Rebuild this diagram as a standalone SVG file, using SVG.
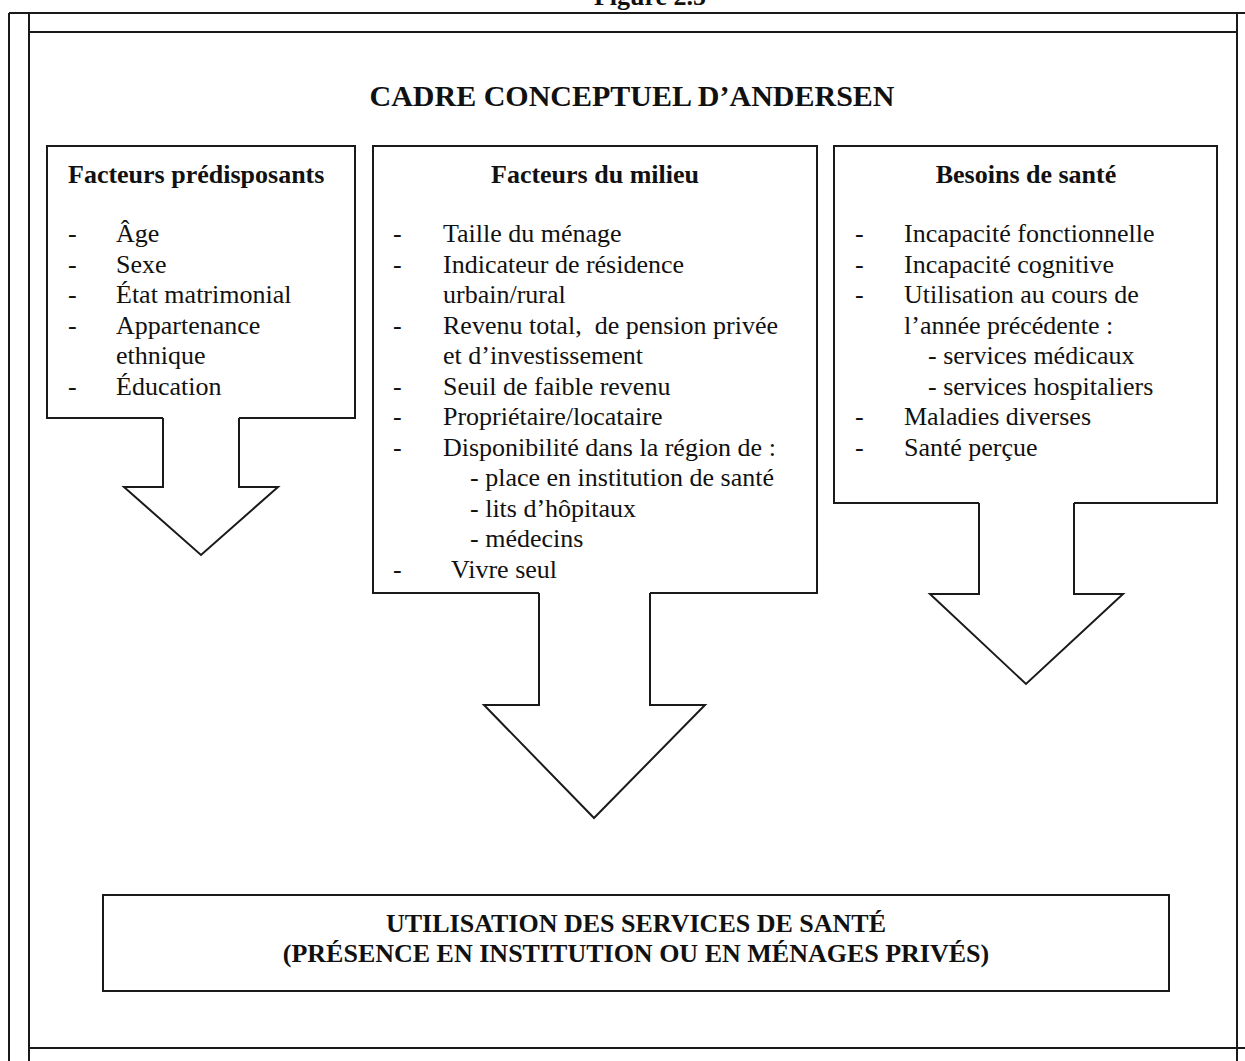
<svg xmlns="http://www.w3.org/2000/svg" width="1245" height="1061" viewBox="0 0 1245 1061">
<style>
  .ln{fill:none;stroke:#1a1a1a;stroke-width:2}
  .frame{fill:none;stroke:#1a1a1a;stroke-width:2}
  text{font-family:"Liberation Serif","Times New Roman",serif;fill:#111}
  .b{font-weight:bold}
  .t{font-size:26px}
  .title{font-size:30px;font-weight:bold}
  .c{text-anchor:middle}
</style>
<rect width="1245" height="1061" fill="#fff"/>
<g id="frame">
  <text class="t b c" x="650" y="5">Figure 2.5</text>
  <line class="frame" x1="9" y1="13" x2="1245" y2="13"/>
  <line class="frame" x1="29" y1="32" x2="1237" y2="32"/>
  <line class="frame" x1="9" y1="13" x2="9" y2="1061"/>
  <line class="frame" x1="29" y1="13" x2="29" y2="1061"/>
  <line class="frame" x1="1237" y1="13" x2="1237" y2="1061"/>
  <line class="frame" x1="29" y1="1048" x2="1245" y2="1048"/>
</g>
<g id="title">
  <text class="title c" x="632" y="106">CADRE CONCEPTUEL D’ANDERSEN</text>
</g>
<g id="predisposants">
  <path class="ln" d="M163,418 H47 V146 H355 V418 H239"/>
  <text class="t b" x="68" y="183">Facteurs prédisposants</text>
  <g class="t">
    <text x="68" y="242">-</text><text x="116" y="242">Âge</text>
    <text x="68" y="273">-</text><text x="116" y="273">Sexe</text>
    <text x="68" y="303">-</text><text x="116" y="303">État matrimonial</text>
    <text x="68" y="334">-</text><text x="116" y="334">Appartenance</text>
    <text x="116" y="364">ethnique</text>
    <text x="68" y="395">-</text><text x="116" y="395">Éducation</text>
  </g>
</g>
<g id="milieu">
  <path class="ln" d="M539,593 H373 V146 H817 V593 H650"/>
  <text class="t b c" x="595" y="183">Facteurs du milieu</text>
  <g class="t">
    <text x="393" y="242">-</text><text x="443" y="242">Taille du ménage</text>
    <text x="393" y="273">-</text><text x="443" y="273">Indicateur de résidence</text>
    <text x="443" y="303">urbain/rural</text>
    <text x="393" y="334">-</text><text x="443" y="334" xml:space="preserve">Revenu total,  de pension privée</text>
    <text x="443" y="364">et d’investissement</text>
    <text x="393" y="395">-</text><text x="443" y="395">Seuil de faible revenu</text>
    <text x="393" y="425">-</text><text x="443" y="425">Propriétaire/locataire</text>
    <text x="393" y="456">-</text><text x="443" y="456">Disponibilité dans la région de :</text>
    <text x="470" y="486">- place en institution de santé</text>
    <text x="470" y="517">- lits d’hôpitaux</text>
    <text x="470" y="547">- médecins</text>
    <text x="393" y="578">-</text><text x="451" y="578">Vivre seul</text>
  </g>
</g>
<g id="besoins">
  <path class="ln" d="M979,503 H834 V146 H1217 V503 H1074"/>
  <text class="t b c" x="1026" y="183">Besoins de santé</text>
  <g class="t">
    <text x="855" y="242">-</text><text x="904" y="242">Incapacité fonctionnelle</text>
    <text x="855" y="273">-</text><text x="904" y="273">Incapacité cognitive</text>
    <text x="855" y="303">-</text><text x="904" y="303">Utilisation au cours de</text>
    <text x="904" y="334">l’année précédente :</text>
    <text x="928" y="364">- services médicaux</text>
    <text x="928" y="395">- services hospitaliers</text>
    <text x="855" y="425">-</text><text x="904" y="425">Maladies diverses</text>
    <text x="855" y="456">-</text><text x="904" y="456">Santé perçue</text>
  </g>
</g>
<g id="utilisation">
  <rect class="ln" x="103" y="895" width="1066" height="96"/>
  <text class="t b c" x="636" y="932">UTILISATION DES SERVICES DE SANTÉ</text>
  <text class="t b c" x="636" y="962">(PRÉSENCE EN INSTITUTION OU EN MÉNAGES PRIVÉS)</text>
</g>
<g id="connectors">
  <polyline class="ln" points="163,418 163,487 124,487 201,555 278,487 239,487 239,418"/>
  <polyline class="ln" points="539,593 539,705 484,705 594,818 705,705 650,705 650,593"/>
  <polyline class="ln" points="979,503 979,594 930,594 1026,684 1123,594 1074,594 1074,503"/>
</g>
</svg>
